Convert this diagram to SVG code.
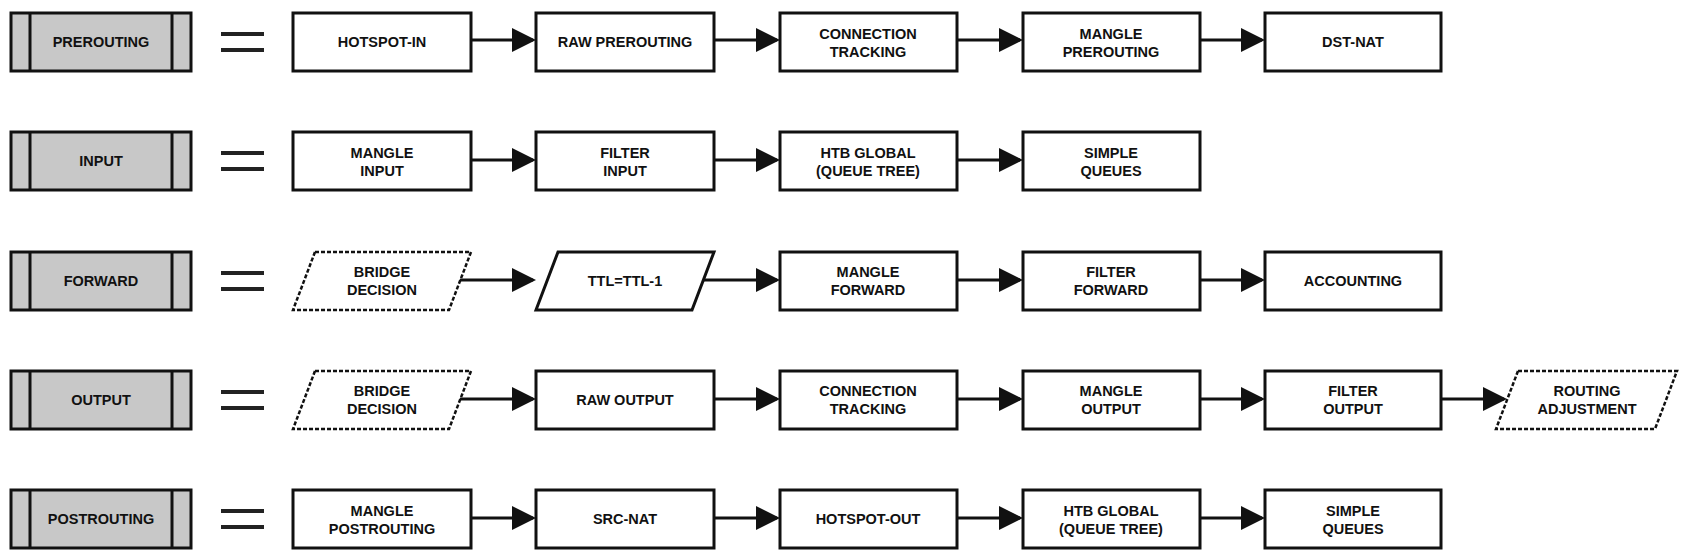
<svg xmlns="http://www.w3.org/2000/svg" width="1690" height="560" viewBox="0 0 1690 560">
<style>
.b{fill:#fff;stroke:#111;stroke-width:3}
.h{fill:#c8c8c8;stroke:#111;stroke-width:3}
.d{fill:#fff;stroke:#111;stroke-width:2.5;stroke-dasharray:4 2}
.v{stroke:#111;stroke-width:3}
.e{stroke:#222;stroke-width:4}
.c line{stroke:#111;stroke-width:3;marker-end:url(#a)}
text{font-family:"Liberation Sans",Arial,sans-serif;font-weight:bold;font-size:14.5px;fill:#111;text-anchor:middle}
</style>
<defs><marker id="a" markerWidth="8" markerHeight="8" refX="7" refY="4" orient="auto" markerUnits="strokeWidth"><path d="M0,0 L8,4 L0,8 z" fill="#111"/></marker></defs>
<rect width="1690" height="560" fill="#fff"/>
<!-- header nodes -->
<g id="h1"><rect class="h" x="11" y="13" width="180" height="58"/><line class="v" x1="30" y1="13" x2="30" y2="71"/><line class="v" x1="172" y1="13" x2="172" y2="71"/><text x="101" y="47">PREROUTING</text><line class="e" x1="221" y1="34" x2="264" y2="34"/><line class="e" x1="221" y1="50" x2="264" y2="50"/></g>
<g id="h2"><rect class="h" x="11" y="132" width="180" height="58"/><line class="v" x1="30" y1="132" x2="30" y2="190"/><line class="v" x1="172" y1="132" x2="172" y2="190"/><text x="101" y="166">INPUT</text><line class="e" x1="221" y1="153" x2="264" y2="153"/><line class="e" x1="221" y1="169" x2="264" y2="169"/></g>
<g id="h3"><rect class="h" x="11" y="252" width="180" height="58"/><line class="v" x1="30" y1="252" x2="30" y2="310"/><line class="v" x1="172" y1="252" x2="172" y2="310"/><text x="101" y="286">FORWARD</text><line class="e" x1="221" y1="273" x2="264" y2="273"/><line class="e" x1="221" y1="289" x2="264" y2="289"/></g>
<g id="h4"><rect class="h" x="11" y="371" width="180" height="58"/><line class="v" x1="30" y1="371" x2="30" y2="429"/><line class="v" x1="172" y1="371" x2="172" y2="429"/><text x="101" y="405">OUTPUT</text><line class="e" x1="221" y1="392" x2="264" y2="392"/><line class="e" x1="221" y1="408" x2="264" y2="408"/></g>
<g id="h5"><rect class="h" x="11" y="490" width="180" height="58"/><line class="v" x1="30" y1="490" x2="30" y2="548"/><line class="v" x1="172" y1="490" x2="172" y2="548"/><text x="101" y="524">POSTROUTING</text><line class="e" x1="221" y1="511" x2="264" y2="511"/><line class="e" x1="221" y1="527" x2="264" y2="527"/></g>
<!-- row 1 -->
<g id="r1c1"><rect class="b" x="293" y="13" width="178" height="58"/><text x="382" y="47">HOTSPOT-IN</text></g>
<g id="r1c2"><rect class="b" x="536" y="13" width="178" height="58"/><text x="625" y="47">RAW PREROUTING</text></g>
<g id="r1c3"><rect class="b" x="780" y="13" width="177" height="58"/><text x="868" y="39">CONNECTION</text><text x="868" y="57">TRACKING</text></g>
<g id="r1c4"><rect class="b" x="1023" y="13" width="177" height="58"/><text x="1111" y="39">MANGLE</text><text x="1111" y="57">PREROUTING</text></g>
<g id="r1c5"><rect class="b" x="1265" y="13" width="176" height="58"/><text x="1353" y="47">DST-NAT</text></g>
<!-- row 2 -->
<g id="r2c1"><rect class="b" x="293" y="132" width="178" height="58"/><text x="382" y="158">MANGLE</text><text x="382" y="176">INPUT</text></g>
<g id="r2c2"><rect class="b" x="536" y="132" width="178" height="58"/><text x="625" y="158">FILTER</text><text x="625" y="176">INPUT</text></g>
<g id="r2c3"><rect class="b" x="780" y="132" width="177" height="58"/><text x="868" y="158">HTB GLOBAL</text><text x="868" y="176">(QUEUE TREE)</text></g>
<g id="r2c4"><rect class="b" x="1023" y="132" width="177" height="58"/><text x="1111" y="158">SIMPLE</text><text x="1111" y="176">QUEUES</text></g>
<!-- row 3 -->
<g id="r3c1"><polygon class="d" points="315,252 471,252 449,310 293,310"/><text x="382" y="277">BRIDGE</text><text x="382" y="295">DECISION</text></g>
<g id="r3c2"><polygon class="b" points="558,252 714,252 692,310 536,310"/><text x="625" y="286">TTL=TTL-1</text></g>
<g id="r3c3"><rect class="b" x="780" y="252" width="177" height="58"/><text x="868" y="277">MANGLE</text><text x="868" y="295">FORWARD</text></g>
<g id="r3c4"><rect class="b" x="1023" y="252" width="177" height="58"/><text x="1111" y="277">FILTER</text><text x="1111" y="295">FORWARD</text></g>
<g id="r3c5"><rect class="b" x="1265" y="252" width="176" height="58"/><text x="1353" y="286">ACCOUNTING</text></g>
<!-- row 4 -->
<g id="r4c1"><polygon class="d" points="315,371 471,371 449,429 293,429"/><text x="382" y="396">BRIDGE</text><text x="382" y="414">DECISION</text></g>
<g id="r4c2"><rect class="b" x="536" y="371" width="178" height="58"/><text x="625" y="405">RAW OUTPUT</text></g>
<g id="r4c3"><rect class="b" x="780" y="371" width="177" height="58"/><text x="868" y="396">CONNECTION</text><text x="868" y="414">TRACKING</text></g>
<g id="r4c4"><rect class="b" x="1023" y="371" width="177" height="58"/><text x="1111" y="396">MANGLE</text><text x="1111" y="414">OUTPUT</text></g>
<g id="r4c5"><rect class="b" x="1265" y="371" width="176" height="58"/><text x="1353" y="396">FILTER</text><text x="1353" y="414">OUTPUT</text></g>
<g id="r4c6"><polygon class="d" points="1518,371 1677,371 1655,429 1496,429"/><text x="1587" y="396">ROUTING</text><text x="1587" y="414">ADJUSTMENT</text></g>
<!-- row 5 -->
<g id="r5c1"><rect class="b" x="293" y="490" width="178" height="58"/><text x="382" y="516">MANGLE</text><text x="382" y="534">POSTROUTING</text></g>
<g id="r5c2"><rect class="b" x="536" y="490" width="178" height="58"/><text x="625" y="524">SRC-NAT</text></g>
<g id="r5c3"><rect class="b" x="780" y="490" width="177" height="58"/><text x="868" y="524">HOTSPOT-OUT</text></g>
<g id="r5c4"><rect class="b" x="1023" y="490" width="177" height="58"/><text x="1111" y="516">HTB GLOBAL</text><text x="1111" y="534">(QUEUE TREE)</text></g>
<g id="r5c5"><rect class="b" x="1265" y="490" width="176" height="58"/><text x="1353" y="516">SIMPLE</text><text x="1353" y="534">QUEUES</text></g>
<g class="c" id="connectors">
<line x1="471" y1="40" x2="533" y2="40"/><line x1="714" y1="40" x2="777" y2="40"/><line x1="957" y1="40" x2="1020" y2="40"/><line x1="1200" y1="40" x2="1262" y2="40"/>
<line x1="471" y1="160" x2="533" y2="160"/><line x1="714" y1="160" x2="777" y2="160"/><line x1="957" y1="160" x2="1020" y2="160"/>
<line x1="460" y1="280" x2="533" y2="280"/><line x1="703" y1="280" x2="777" y2="280"/><line x1="957" y1="280" x2="1020" y2="280"/><line x1="1200" y1="280" x2="1262" y2="280"/>
<line x1="460" y1="399" x2="533" y2="399"/><line x1="714" y1="399" x2="777" y2="399"/><line x1="957" y1="399" x2="1020" y2="399"/><line x1="1200" y1="399" x2="1262" y2="399"/><line x1="1441" y1="399" x2="1504" y2="399"/>
<line x1="471" y1="518" x2="533" y2="518"/><line x1="714" y1="518" x2="777" y2="518"/><line x1="957" y1="518" x2="1020" y2="518"/><line x1="1200" y1="518" x2="1262" y2="518"/>
</g>
</svg>
